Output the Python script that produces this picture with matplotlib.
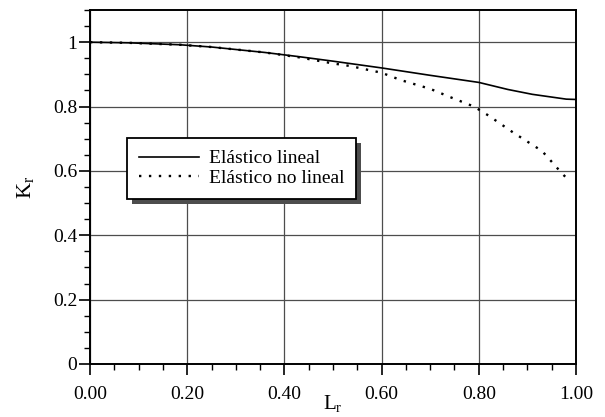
import matplotlib.pyplot as plt
from matplotlib.ticker import MultipleLocator, FixedLocator, FixedFormatter
from matplotlib.patches import Rectangle

# Data
lr_lineal = [0.0, 0.08, 0.185, 0.25, 0.36, 0.43, 0.5, 0.6, 0.7, 0.8, 0.86, 0.91, 0.98, 1.0]
kr_lineal = [1.0, 0.998, 0.992, 0.985, 0.968, 0.955, 0.941, 0.92, 0.897, 0.875, 0.853, 0.838, 0.823, 0.822]

lr_nolineal = [0.0, 0.08, 0.185, 0.25, 0.36, 0.43, 0.5, 0.535, 0.6, 0.64, 0.7, 0.74,
               0.79, 0.82, 0.87, 0.93, 0.955, 0.97, 0.985]
kr_nolineal = [1.0, 0.998, 0.992, 0.985, 0.968, 0.953, 0.934, 0.926, 0.905, 0.882, 0.855, 0.83,
               0.80, 0.772, 0.72, 0.662, 0.62, 0.594, 0.571]

x_ticks = [0.0, 0.2, 0.4, 0.6, 0.8, 1.0]
x_labels = ['0.00', '0.20', '0.40', '0.60', '0.80', '1.00']
y_ticks = [0.0, 0.2, 0.4, 0.6, 0.8, 1.0]
y_labels = ['0', '0.2', '0.4', '0.6', '0.8', '1']

plt.rcParams['font.family'] = ['Liberation Serif', 'DejaVu Serif']
plt.rcParams['mathtext.fontset'] = 'custom'
plt.rcParams['mathtext.rm'] = 'Liberation Serif'
plt.rcParams['mathtext.it'] = 'Liberation Serif'

fig = plt.figure(figsize=(6.05, 4.17), dpi=100)
ax = fig.add_axes([90/605, 53/417, 486/605, 354/417])

# Curves
ax.plot(lr_lineal, kr_lineal, color='black', lw=1.2, label='Elástico lineal', zorder=3)
ax.plot(lr_nolineal, kr_nolineal, color='black', lw=1.7, linestyle=(0, (1, 3.2)),
        label='Elástico no lineal', zorder=3)

ax.set_xlim(0, 1.0)
ax.set_ylim(0, 1.1)

# Ticks
ax.xaxis.set_major_locator(FixedLocator(x_ticks))
ax.xaxis.set_major_formatter(FixedFormatter(x_labels))
ax.yaxis.set_major_locator(FixedLocator(y_ticks))
ax.yaxis.set_major_formatter(FixedFormatter(y_labels))
ax.xaxis.set_minor_locator(MultipleLocator(0.05))
ax.yaxis.set_minor_locator(MultipleLocator(0.05))
ax.tick_params(which='major', direction='out', length=8, width=1.2, labelsize=14, pad=5, color='black')
ax.tick_params(which='minor', direction='out', length=4, width=1.0, color='black')
ax.tick_params(axis='x', which='major', pad=8)
ax.tick_params(axis='y', which='major', pad=1)

for s in ax.spines.values():
    s.set_linewidth(1.4)

# Grid
ax.grid(True, which='major', color='0.3', lw=0.9)
ax.set_axisbelow(True)

# Axis labels
ax.set_xlabel('L$_\\mathregular{r}$', fontsize=15, labelpad=-7)
ax.set_ylabel('K$_\\mathregular{r}$', fontsize=16, labelpad=12)

# Legend with shadow
leg = ax.legend(loc='upper left', bbox_to_anchor=(0.076, 0.638), fontsize=14,
                frameon=True, fancybox=False, framealpha=1, edgecolor='black',
                handlelength=3.1, handletextpad=0.5, labelspacing=0.1,
                borderpad=0.6, borderaxespad=0)
leg.get_frame().set_linewidth(1.3)
leg.set_zorder(6)

fig.canvas.draw()
bb = leg.get_window_extent()
shadow = Rectangle((bb.x0 + 5, bb.y0 - 5), bb.width, bb.height, transform=None,
                   facecolor='0.3', edgecolor='none', zorder=5)
ax.add_artist(shadow)

plt.savefig('out.png', dpi=100)
